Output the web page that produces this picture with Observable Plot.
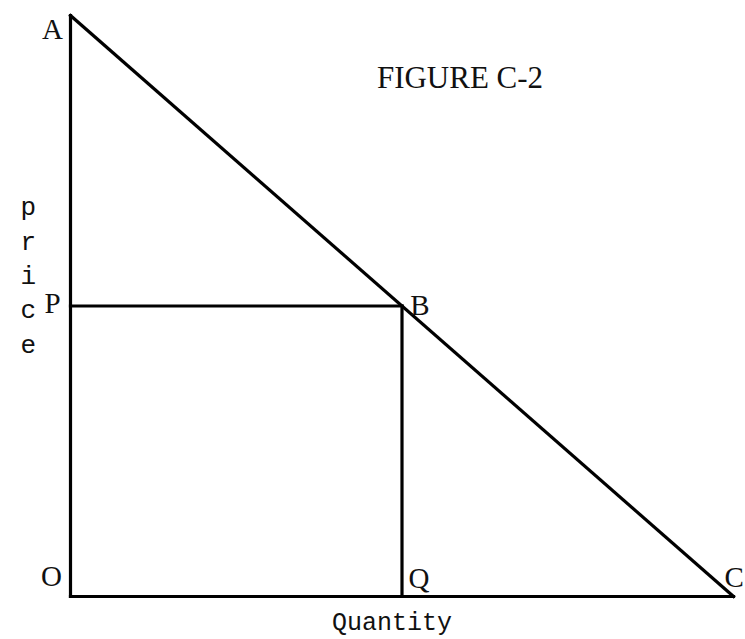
<!DOCTYPE html>
<html>
<head>
<meta charset="utf-8">
<script src="https://cdn.jsdelivr.net/npm/d3@7"></script>
<script src="https://cdn.jsdelivr.net/npm/@observablehq/plot@0.6"></script>
<style>
  html, body { margin: 0; padding: 0; background: #fff; }
  #chart { width: 745px; height: 639px; overflow: hidden; }
</style>
</head>
<body>
<div id="chart"></div>
<script>
// Named points of the diagram (quantity, price in abstract units)
const pointNames = ["A", "B", "C", "O", "P", "Q"];
const quantity   = [0,   5,   10,  0,   0,   5];
const price      = [10,  5,   0,   0,   5,   0];

// Line segments joining the named points
const segmentFrom = ["O", "O", "A", "P", "B"];
const segmentTo   = ["A", "C", "C", "B", "Q"];

// Text labels
const title = "FIGURE C-2";
const xLabel = "Quantity";
const yLabel = "price";

// Build tables from arrays
const points = pointNames.map((name, i) => ({name, q: quantity[i], p: price[i]}));
const byName = Object.fromEntries(points.map(d => [d.name, d]));
const segments = segmentFrom.map((f, i) => ({
  x1: byName[f].q, y1: byName[f].p, x2: byName[segmentTo[i]].q, y2: byName[segmentTo[i]].p
}));

// Label placement styles (offsets in px relative to each point)
const labelStyle = {
  A: {dx: -18, dy: 14, textAnchor: "middle"},
  B: {dx: 18, dy: 0, textAnchor: "middle"},
  C: {dx: -9, dy: -19, textAnchor: "start"},
  O: {dx: -19, dy: -20, textAnchor: "middle"},
  P: {dx: -18, dy: -2, textAnchor: "middle"},
  Q: {dx: 17, dy: -18, textAnchor: "middle"}
};

const serif = "'Liberation Serif', 'Times New Roman', serif";
const mono = "'Liberation Mono', 'Courier New', monospace";

const labelMarks = pointNames.map(name => Plot.text(points.filter(d => d.name === name), {
  x: "q", y: "p", text: "name",
  lineAnchor: "middle",
  fontFamily: serif, fontSize: 29, fill: "#111",
  ...labelStyle[name]
}));

const chart = Plot.plot({
  width: 745,
  height: 639,
  marginLeft: 70,
  marginRight: 12,
  marginTop: 15,
  marginBottom: 43,
  x: {domain: [0, 10], axis: null},
  y: {domain: [0, 10], axis: null},
  style: {background: "#fff", overflow: "visible"},
  marks: [
    Plot.link(segments, {x1: "x1", y1: "y1", x2: "x2", y2: "y2", stroke: "#000", strokeWidth: 3.2, strokeLinecap: "square"}),
    ...labelMarks,
    Plot.text([title], {frameAnchor: "top", dx: 58, dy: 63, lineAnchor: "middle", fontFamily: serif, fontSize: 31, fill: "#111"}),
    Plot.text([xLabel], {frameAnchor: "bottom", dx: -10, dy: 25, lineAnchor: "middle", fontFamily: mono, fontSize: 25, fill: "#111"}),
    Plot.text([yLabel.split("").join("\n")], {frameAnchor: "left", dx: -50, dy: -33, lineAnchor: "middle", lineHeight: 1.32, fontFamily: mono, fontSize: 26, fill: "#111"})
  ]
});
document.getElementById("chart").appendChild(chart);
</script>
</body>
</html>
